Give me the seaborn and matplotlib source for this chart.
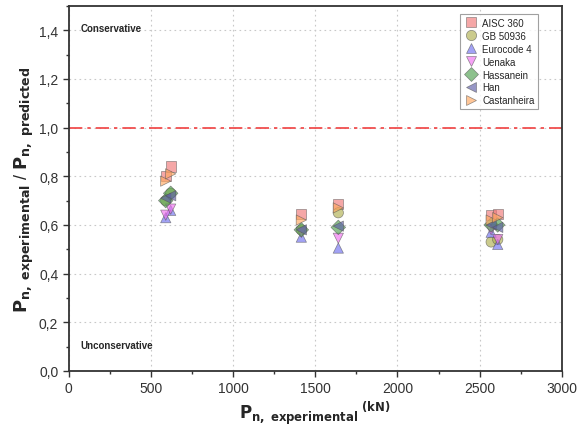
import matplotlib
matplotlib.use("Agg")
from matplotlib import pyplot as plt
from matplotlib.ticker import MultipleLocator, FuncFormatter
import pandas as pd
import seaborn as sns

# experimental loads (kN), two specimens per group
p_exp = [590, 620, 1415, 1640, 2570, 2610]

# ratio P_exp / P_pred for each design method
aisc = [0.80, 0.84, 0.645, 0.685, 0.64, 0.645]
gb = [0.70, 0.73, 0.58, 0.65, 0.53, 0.54]
eurocode = [0.63, 0.66, 0.55, 0.505, 0.57, 0.52]
uenaka = [0.64, 0.665, 0.57, 0.545, 0.58, 0.54]
hassanein = [0.70, 0.73, 0.58, 0.59, 0.60, 0.60]
han = [0.71, 0.72, 0.58, 0.595, 0.60, 0.59]
castanheira = [0.78, 0.81, 0.62, 0.67, 0.62, 0.63]

methods = ["AISC 360", "GB 50936", "Eurocode 4", "Uenaka", "Hassanein", "Han", "Castanheira"]
ratios = [aisc, gb, eurocode, uenaka, hassanein, han, castanheira]

rows = []
for name, vals in zip(methods, ratios):
    for x, y in zip(p_exp, vals):
        rows.append({"P": x, "ratio": y, "Method": name})
df = pd.DataFrame(rows)

colors = ["#F07878", "#B0B050", "#7070F0", "#F070F0", "#50A050", "#6060A8", "#FFA860"]
markers = ["s", "o", "^", "v", "D", "<", ">"]

sns.set_style("ticks")
plt.rcParams['font.family'] = ['Liberation Sans', 'DejaVu Sans']

fig = plt.figure(figsize=(5.78, 4.35), dpi=100)
ax = fig.add_axes([0.119, 0.145, 0.853, 0.839])

#reference line at 1.0
ax.axhline(1.0, color="#F04040", lw=1.2, ls=(0, (8, 3, 2, 3)), zorder=1)

sns.scatterplot(
    data=df, x="P", y="ratio",
    hue="Method", style="Method",
    palette=dict(zip(methods, colors)),
    markers=dict(zip(methods, markers)),
    s=55, alpha=0.65, edgecolor="#555555", linewidth=0.5,
    ax=ax, zorder=3
)

ax.set_xlim(0, 3000)
ax.set_ylim(0, 1.5)
ax.xaxis.set_major_locator(MultipleLocator(500))
ax.xaxis.set_minor_locator(MultipleLocator(250))
ax.yaxis.set_major_locator(MultipleLocator(0.2))
ax.yaxis.set_minor_locator(MultipleLocator(0.1))
ax.yaxis.set_major_formatter(FuncFormatter(lambda v, p: f"{v:.1f}".replace(".", ",")))
ax.grid(True, which="major", ls=(0, (1.5, 3)), color="#C8C8C8", lw=0.8)
ax.set_axisbelow(True)
ax.tick_params(which="major", direction="out", length=4, width=1, labelsize=10, colors="#333333")
ax.tick_params(which="minor", direction="out", length=2.5, width=1, colors="#333333")
for sp in ax.spines.values():
    sp.set_linewidth(1.3)
    sp.set_color("#333333")

ax.text(70, 1.41, "Conservative", fontsize=7, fontweight="bold", va="center")
ax.text(70, 0.107, "Unconservative", fontsize=7, fontweight="bold", va="center")

ax.set_xlabel(r"$\mathbf{P_{n,\ experimental}}^{\mathbf{\ (kN)}}$", fontsize=12, labelpad=2)
ax.set_ylabel(r"$\mathbf{P_{n,\ experimental}}$ / $\mathbf{P_{n,\ predicted}}$", fontsize=13, labelpad=2)

leg = ax.legend(loc="upper right", bbox_to_anchor=(0.962, 0.99), fontsize=7, title=None,
                frameon=True, fancybox=False, edgecolor="#888888",
                handletextpad=0.4, labelspacing=0.3, borderpad=0.35, markerscale=1.0,
                handlelength=1.6)
leg.get_frame().set_linewidth(0.8)

fig.savefig("out.png", dpi=100)
